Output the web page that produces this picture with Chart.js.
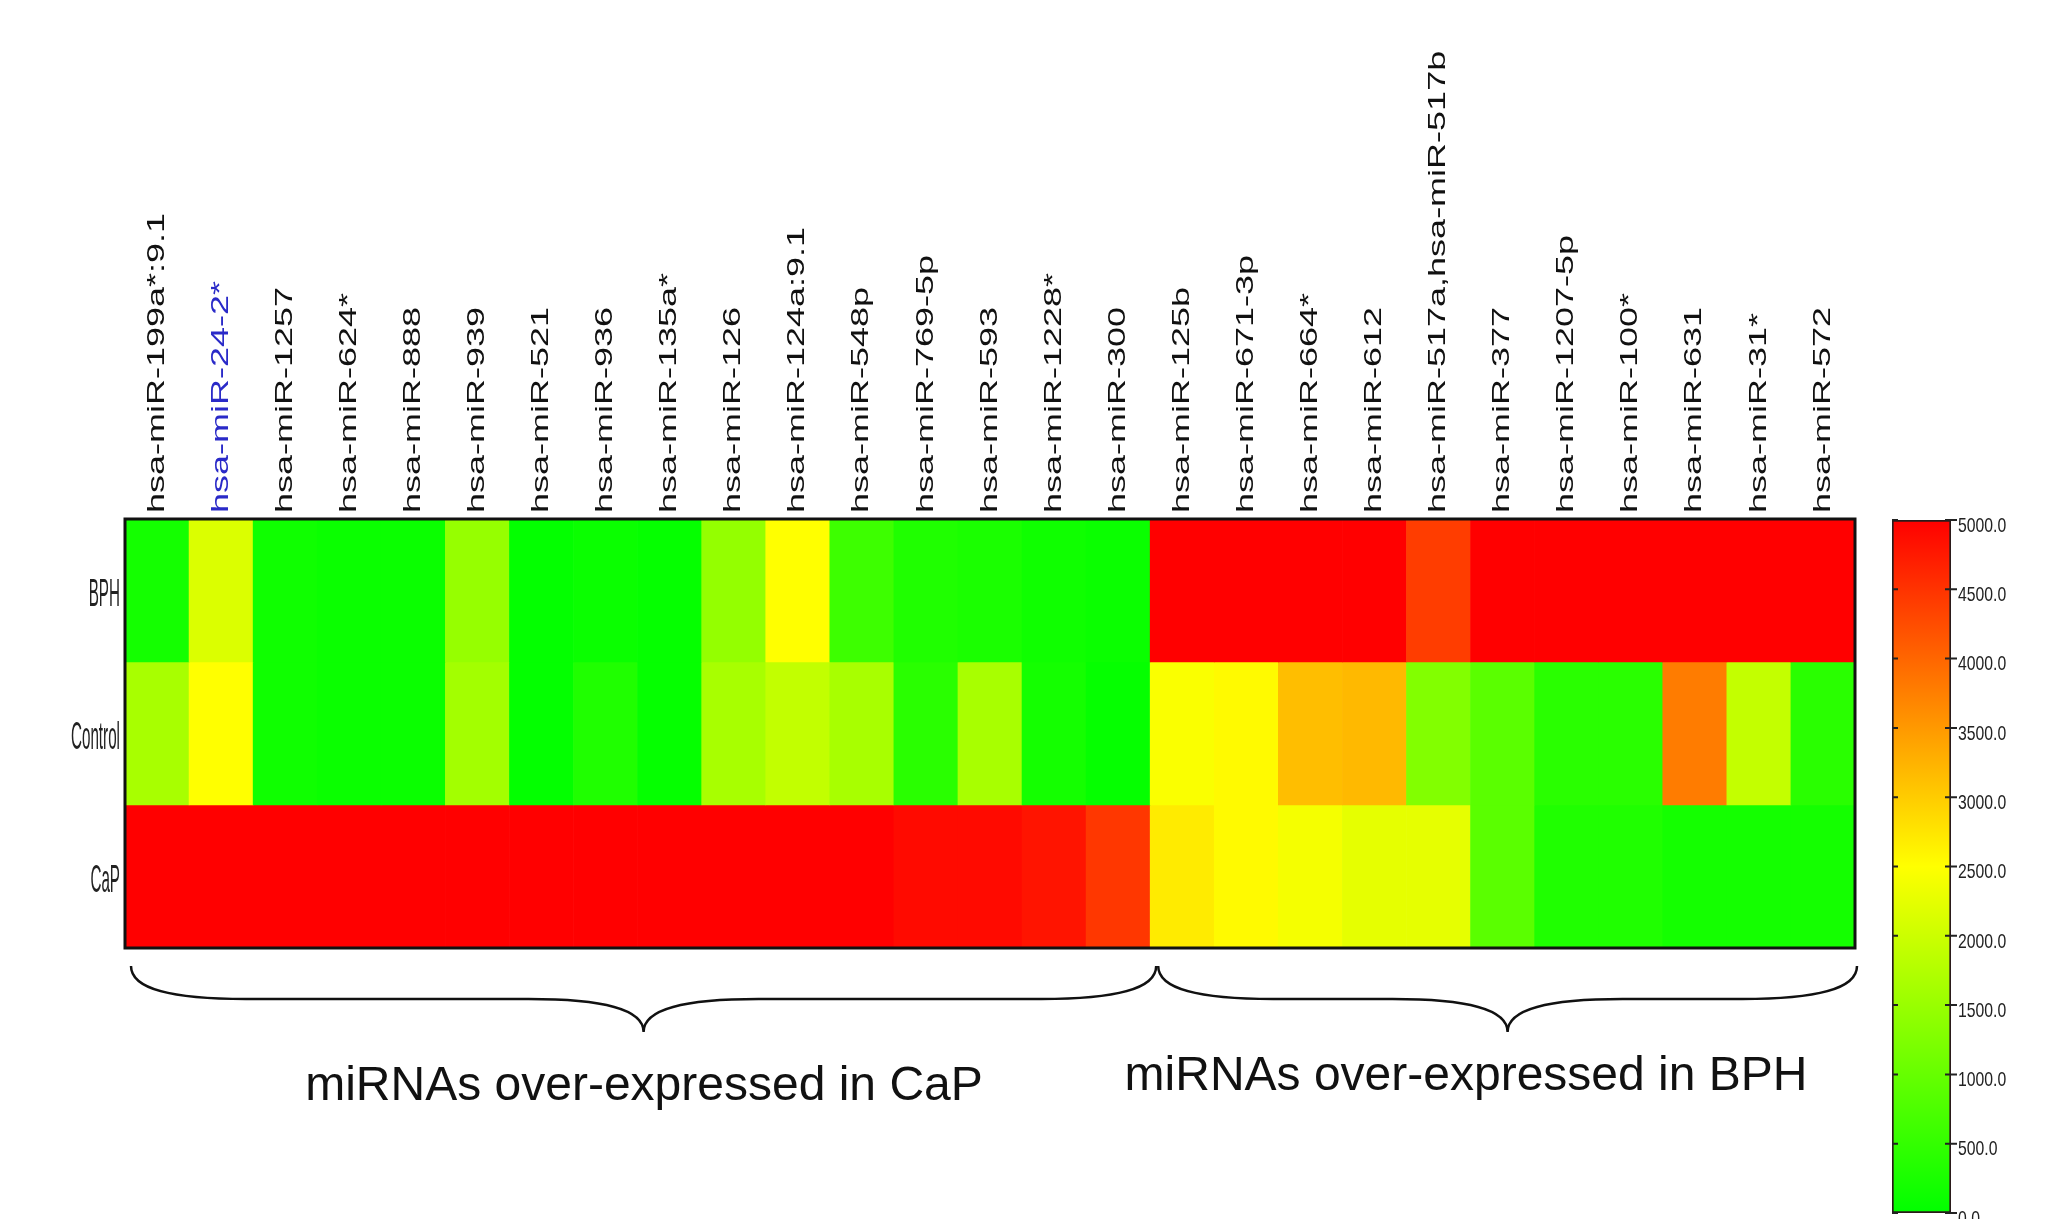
<!DOCTYPE html>
<html>
<head>
<meta charset="utf-8">
<script src="https://cdn.jsdelivr.net/npm/chart.js@4.4.0/dist/chart.umd.min.js"></script>
<style>
  html, body { margin: 0; padding: 0; background: #fff; }
  #wrap { position: relative; width: 2060px; height: 1219px; overflow: hidden; }
  #heat { position: absolute; left: 0; top: 0; }
  #bar { position: absolute; left: 1860px; top: 490px; }
</style>
</head>
<body>
<div id="wrap">
  <canvas id="heat" width="2060" height="1219"></canvas>
  <canvas id="bar" width="200" height="729"></canvas>
</div>
<script>
var mirnas = [
    'hsa-miR-199a*:9.1', 'hsa-miR-24-2*', 'hsa-miR-1257', 'hsa-miR-624*', 'hsa-miR-888',
    'hsa-miR-939', 'hsa-miR-521', 'hsa-miR-936', 'hsa-miR-135a*', 'hsa-miR-126',
    'hsa-miR-124a:9.1', 'hsa-miR-548p', 'hsa-miR-769-5p', 'hsa-miR-593', 'hsa-miR-1228*',
    'hsa-miR-300', 'hsa-miR-125b', 'hsa-miR-671-3p', 'hsa-miR-664*', 'hsa-miR-612',
    'hsa-miR-517a,hsa-miR-517b', 'hsa-miR-377', 'hsa-miR-1207-5p', 'hsa-miR-100*', 'hsa-miR-631',
    'hsa-miR-31*', 'hsa-miR-572'
];
var highlighted = ['hsa-miR-24-2*'];
var groups = ['BPH', 'Control', 'CaP'];

var bphValues = [200, 2150, 150, 100, 100, 1470, 30, 100, 50, 1450, 2500, 600, 300, 250, 150, 100,
                 5000, 5000, 5000, 5000, 4400, 5000, 5000, 5000, 5000, 5000, 5000];
var controlValues = [1650, 2500, 150, 100, 100, 1600, 30, 300, 50, 1650, 1900, 1650, 400, 1650, 200, 50,
                     2450, 2550, 3140, 3190, 1270, 880, 400, 400, 3780, 1910, 400];
var capValues = [5000, 5000, 5000, 5000, 5000, 5000, 5000, 5000, 5000, 5000, 5000, 5000, 4900, 4900, 4800, 4460,
                 2700, 2550, 2400, 2250, 2250, 880, 300, 300, 200, 200, 200];

var scaleTicks = [0, 500, 1000, 1500, 2000, 2500, 3000, 3500, 4000, 4500, 5000];
var scaleMax = 5000;

var groupNotes = ['miRNAs over-expressed in CaP', 'miRNAs over-expressed in BPH'];
var groupSizes = [16, 11];

// green -> yellow -> red
function heatColor(v) {
    var t = Math.max(0, Math.min(1, v / scaleMax));
    var r, g;
    if (t < 0.5) { r = Math.round(510 * t); g = 255; }
    else { r = 255; g = Math.round(510 * (1 - t)); }
    return 'rgb(' + r + ',' + g + ',0)';
}

function narrowText(ctx, text, x, y, font, sx, align, color) {
    ctx.save();
    ctx.font = font;
    ctx.fillStyle = color || '#111';
    ctx.textBaseline = 'middle';
    ctx.textAlign = align;
    ctx.translate(x, y);
    ctx.scale(sx, 1);
    ctx.fillText(text, 0, 0);
    ctx.restore();
}

function drawBrace(ctx, x0, x1, top, mid, bot, rx) {
    var tip = (x0 + x1) / 2;
    ctx.beginPath();
    ctx.moveTo(x0, top);
    ctx.bezierCurveTo(x0, top + (mid - top) * 0.7, x0 + rx * 0.35, mid, x0 + rx, mid);
    ctx.lineTo(tip - rx, mid);
    ctx.bezierCurveTo(tip - rx * 0.35, mid, tip, mid + (bot - mid) * 0.3, tip, bot);
    ctx.bezierCurveTo(tip, mid + (bot - mid) * 0.3, tip + rx * 0.35, mid, tip + rx, mid);
    ctx.lineTo(x1 - rx, mid);
    ctx.bezierCurveTo(x1 - rx * 0.35, mid, x1, top + (mid - top) * 0.7, x1, top);
    ctx.stroke();
}

var heatDecor = {
    id: 'heatDecor',
    afterDraw: function(chart) {
        var ctx = chart.ctx, a = chart.chartArea;
        var xs = chart.scales.x, ys = chart.scales.y;
        var colW = (a.right - a.left) / mirnas.length;

        // frame
        ctx.save();
        ctx.strokeStyle = '#111';
        ctx.lineWidth = 3;
        ctx.strokeRect(a.left, a.top, a.right - a.left, a.bottom - a.top);
        ctx.restore();

        // column labels
        mirnas.forEach(function(name, i) {
            var x = xs.getPixelForValue(i);
            ctx.save();
            ctx.translate(x, a.top - 6);
            ctx.rotate(-Math.PI / 2);
            ctx.scale(1.5, 1);
            ctx.font = '24px "Liberation Sans", Arial, sans-serif';
            ctx.fillStyle = highlighted.indexOf(name) >= 0 ? '#2a2ac8' : '#111';
            ctx.textAlign = 'left';
            ctx.textBaseline = 'middle';
            ctx.fillText(name, 0, 0);
            ctx.restore();
        });

        // row labels
        groups.forEach(function(g, r) {
            var y = ys.getPixelForValue(r + 0.5) + 5;
            narrowText(ctx, g, a.left - 5, y, '39px "Liberation Sans", Arial, sans-serif', 0.39, 'right', '#222');
        });

        // braces and group notes
        var start = 0;
        ctx.save();
        ctx.strokeStyle = '#111';
        ctx.lineWidth = 2.5;
        groupSizes.forEach(function(n, k) {
            var x0 = a.left + start * colW + (k === 0 ? 6 : 8);
            var x1 = a.left + (start + n) * colW + (k === 0 ? 6 : 2);
            drawBrace(ctx, x0, x1, a.bottom + 18, a.bottom + 51, a.bottom + 84, 115);
            start += n;
        });
        ctx.restore();

        ctx.save();
        ctx.font = '48px "Liberation Sans", Arial, sans-serif';
        ctx.fillStyle = '#111';
        ctx.textAlign = 'center';
        ctx.textBaseline = 'alphabetic';
        ctx.fillText(groupNotes[0], 644, a.bottom + 152);
        ctx.fillText(groupNotes[1], 1466, a.bottom + 142);
        ctx.restore();
    }
};

var rows = [bphValues, controlValues, capValues];

new Chart(document.getElementById('heat'), {
    type: 'bar',
    data: {
        labels: mirnas,
        datasets: rows.map(function(vals, r) {
            return {
                label: groups[r],
                data: vals.map(function() { return [r, r + 1]; }),
                backgroundColor: vals.map(heatColor),
                borderWidth: 0,
                grouped: false,
                barPercentage: 1.0,
                categoryPercentage: 1.0
            };
        })
    },
    options: {
        responsive: false,
        animation: false,
        layout: { padding: { left: 125, right: 205, top: 519, bottom: 271 } },
        plugins: { legend: { display: false }, tooltip: { enabled: false } },
        scales: {
            x: { display: false },
            y: { display: false, min: 0, max: 3, reverse: true }
        }
    },
    plugins: [heatDecor]
});

// colour key
var barDecor = {
    id: 'barDecor',
    afterDraw: function(chart) {
        var ctx = chart.ctx, a = chart.chartArea, ys = chart.scales.y;
        ctx.save();
        ctx.strokeStyle = '#222';
        ctx.lineWidth = 2;
        scaleTicks.forEach(function(v) {
            var y = ys.getPixelForValue(v);
            ctx.beginPath();
            ctx.moveTo(a.left, y); ctx.lineTo(a.left + 6, y);
            ctx.moveTo(a.right - 6, y); ctx.lineTo(a.right + 6, y);
            ctx.stroke();
            narrowText(ctx, v.toFixed(1), a.right + 7, y + 6, '21px "Liberation Sans", Arial, sans-serif', 0.75, 'left', '#222');
        });
        ctx.restore();
    }
};

new Chart(document.getElementById('bar'), {
    type: 'bar',
    data: {
        labels: [''],
        datasets: [{
            data: [[0, scaleMax]],
            backgroundColor: function(c) {
                var a = c.chart.chartArea;
                if (!a) return heatColor(scaleMax / 2);
                var g = c.chart.ctx.createLinearGradient(0, a.bottom, 0, a.top);
                scaleTicks.forEach(function(v) { g.addColorStop(v / scaleMax, heatColor(v)); });
                return g;
            },
            borderColor: '#2a1a1a',
            borderWidth: 2,
            borderSkipped: false,
            barPercentage: 1.0,
            categoryPercentage: 1.0
        }]
    },
    options: {
        responsive: false,
        animation: false,
        layout: { padding: { left: 32, right: 109, top: 30, bottom: 6 } },
        plugins: { legend: { display: false }, tooltip: { enabled: false } },
        scales: {
            x: { display: false },
            y: { display: false, min: 0, max: scaleMax }
        }
    },
    plugins: [barDecor]
});
</script>
</body>
</html>
